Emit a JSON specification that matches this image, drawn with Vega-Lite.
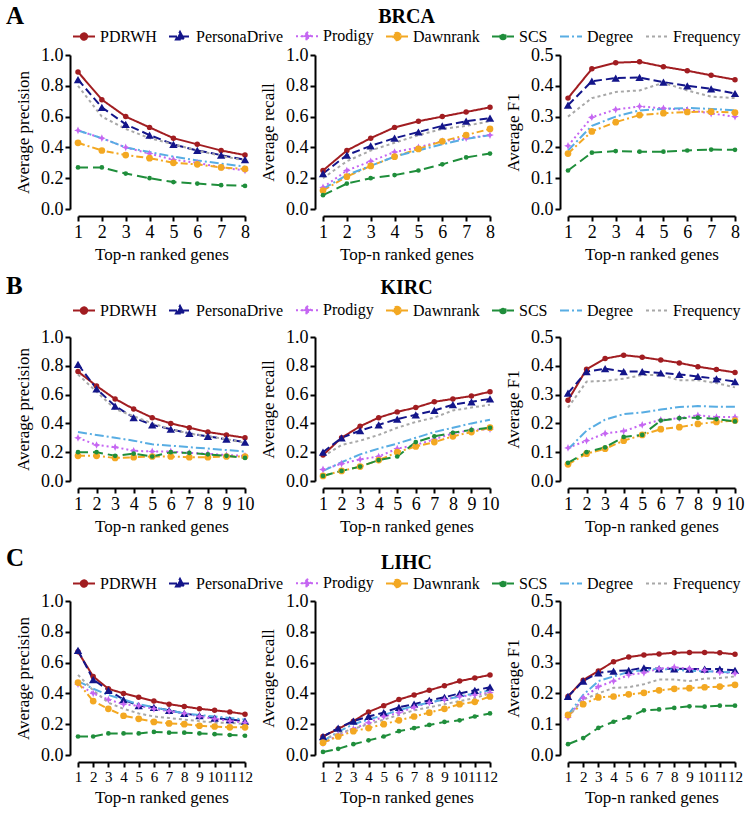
{
"$schema": "https://vega.github.io/schema/vega-lite/v6.json",
"background": "white",
"padding": {"left": 6, "top": 4, "right": 4, "bottom": 2},
"spacing": 12,
"resolve": {"scale": {"color": "independent", "strokeDash": "independent", "shape": "independent"}},
"config": {
  "font": "Times New Roman, Liberation Serif, DejaVu Serif, serif",
  "view": {"stroke": null},
  "style": {"guide-label": {"font": "Times New Roman, Liberation Serif, DejaVu Serif, serif"}, "guide-title": {"font": "Times New Roman, Liberation Serif, DejaVu Serif, serif"}, "group-title": {"font": "Times New Roman, Liberation Serif, DejaVu Serif, serif"}},
  "axis": {"domainColor": "#000", "domainWidth": 2, "tickColor": "#000", "tickWidth": 2, "tickSize": 5, "labelFont": "Times New Roman, Liberation Serif, DejaVu Serif, serif", "labelFontSize": 18, "labelColor": "#000", "labelPadding": 2, "titleFont": "Times New Roman, Liberation Serif, DejaVu Serif, serif", "titleFontSize": 17, "titleFontWeight": "normal", "titleColor": "#000", "grid": false, "labelOverlap": false, "labelFlush": false},
  "axisX": {"titlePadding": 5},
  "axisY": {"titlePadding": 8},
  "title": {"font": "Times New Roman, Liberation Serif, DejaVu Serif, serif", "color": "#000", "baseline": "alphabetic"},
  "legend": {"labelFont": "Times New Roman, Liberation Serif, DejaVu Serif, serif", "labelFontSize": 16, "labelColor": "#000"}
},
"datasets": {
"BRCA": [
{"m":"PDRWH","n":1,"p":0.89,"r":0.25,"f":0.36},{"m":"PDRWH","n":2,"p":0.71,"r":0.38,"f":0.455},{"m":"PDRWH","n":3,"p":0.60,"r":0.46,"f":0.475},{"m":"PDRWH","n":4,"p":0.53,"r":0.53,"f":0.478},{"m":"PDRWH","n":5,"p":0.46,"r":0.57,"f":0.462},{"m":"PDRWH","n":6,"p":0.42,"r":0.60,"f":0.449},{"m":"PDRWH","n":7,"p":0.38,"r":0.63,"f":0.434},{"m":"PDRWH","n":8,"p":0.35,"r":0.66,"f":0.42},
{"m":"PersonaDrive","n":1,"p":0.84,"r":0.23,"f":0.337},{"m":"PersonaDrive","n":2,"p":0.66,"r":0.35,"f":0.415},{"m":"PersonaDrive","n":3,"p":0.55,"r":0.41,"f":0.425},{"m":"PersonaDrive","n":4,"p":0.48,"r":0.46,"f":0.427},{"m":"PersonaDrive","n":5,"p":0.42,"r":0.50,"f":0.412},{"m":"PersonaDrive","n":6,"p":0.38,"r":0.54,"f":0.40},{"m":"PersonaDrive","n":7,"p":0.35,"r":0.57,"f":0.39},{"m":"PersonaDrive","n":8,"p":0.32,"r":0.59,"f":0.375},
{"m":"Prodigy","n":1,"p":0.51,"r":0.14,"f":0.205},{"m":"Prodigy","n":2,"p":0.46,"r":0.25,"f":0.298},{"m":"Prodigy","n":3,"p":0.40,"r":0.31,"f":0.323},{"m":"Prodigy","n":4,"p":0.36,"r":0.37,"f":0.333},{"m":"Prodigy","n":5,"p":0.32,"r":0.40,"f":0.327},{"m":"Prodigy","n":6,"p":0.30,"r":0.44,"f":0.322},{"m":"Prodigy","n":7,"p":0.27,"r":0.46,"f":0.31},{"m":"Prodigy","n":8,"p":0.25,"r":0.48,"f":0.30},
{"m":"Dawnrank","n":1,"p":0.43,"r":0.12,"f":0.18},{"m":"Dawnrank","n":2,"p":0.38,"r":0.21,"f":0.252},{"m":"Dawnrank","n":3,"p":0.35,"r":0.28,"f":0.282},{"m":"Dawnrank","n":4,"p":0.33,"r":0.34,"f":0.305},{"m":"Dawnrank","n":5,"p":0.30,"r":0.39,"f":0.311},{"m":"Dawnrank","n":6,"p":0.29,"r":0.44,"f":0.315},{"m":"Dawnrank","n":7,"p":0.27,"r":0.48,"f":0.316},{"m":"Dawnrank","n":8,"p":0.26,"r":0.52,"f":0.313},
{"m":"SCS","n":1,"p":0.27,"r":0.09,"f":0.125},{"m":"SCS","n":2,"p":0.27,"r":0.165,"f":0.183},{"m":"SCS","n":3,"p":0.23,"r":0.20,"f":0.188},{"m":"SCS","n":4,"p":0.20,"r":0.22,"f":0.186},{"m":"SCS","n":5,"p":0.175,"r":0.25,"f":0.186},{"m":"SCS","n":6,"p":0.165,"r":0.29,"f":0.19},{"m":"SCS","n":7,"p":0.155,"r":0.335,"f":0.193},{"m":"SCS","n":8,"p":0.15,"r":0.36,"f":0.192},
{"m":"Degree","n":1,"p":0.51,"r":0.13,"f":0.19},{"m":"Degree","n":2,"p":0.46,"r":0.22,"f":0.27},{"m":"Degree","n":3,"p":0.40,"r":0.28,"f":0.30},{"m":"Degree","n":4,"p":0.37,"r":0.34,"f":0.32},{"m":"Degree","n":5,"p":0.34,"r":0.38,"f":0.325},{"m":"Degree","n":6,"p":0.315,"r":0.42,"f":0.328},{"m":"Degree","n":7,"p":0.295,"r":0.455,"f":0.325},{"m":"Degree","n":8,"p":0.275,"r":0.48,"f":0.32},
{"m":"Frequency","n":1,"p":0.80,"r":0.20,"f":0.30},{"m":"Frequency","n":2,"p":0.60,"r":0.31,"f":0.36},{"m":"Frequency","n":3,"p":0.52,"r":0.38,"f":0.38},{"m":"Frequency","n":4,"p":0.46,"r":0.43,"f":0.385},{"m":"Frequency","n":5,"p":0.42,"r":0.48,"f":0.41},{"m":"Frequency","n":6,"p":0.38,"r":0.52,"f":0.385},{"m":"Frequency","n":7,"p":0.345,"r":0.54,"f":0.365},{"m":"Frequency","n":8,"p":0.315,"r":0.57,"f":0.36}
],
"KIRC": [
{"m":"PDRWH","n":1,"p":0.76,"r":0.18,"f":0.28},{"m":"PDRWH","n":2,"p":0.66,"r":0.30,"f":0.388},{"m":"PDRWH","n":3,"p":0.57,"r":0.38,"f":0.425},{"m":"PDRWH","n":4,"p":0.50,"r":0.44,"f":0.437},{"m":"PDRWH","n":5,"p":0.44,"r":0.48,"f":0.43},{"m":"PDRWH","n":6,"p":0.40,"r":0.51,"f":0.42},{"m":"PDRWH","n":7,"p":0.37,"r":0.55,"f":0.41},{"m":"PDRWH","n":8,"p":0.34,"r":0.57,"f":0.397},{"m":"PDRWH","n":9,"p":0.32,"r":0.59,"f":0.387},{"m":"PDRWH","n":10,"p":0.30,"r":0.62,"f":0.377},
{"m":"PersonaDrive","n":1,"p":0.81,"r":0.20,"f":0.305},{"m":"PersonaDrive","n":2,"p":0.64,"r":0.30,"f":0.38},{"m":"PersonaDrive","n":3,"p":0.52,"r":0.35,"f":0.39},{"m":"PersonaDrive","n":4,"p":0.44,"r":0.39,"f":0.38},{"m":"PersonaDrive","n":5,"p":0.39,"r":0.43,"f":0.38},{"m":"PersonaDrive","n":6,"p":0.36,"r":0.46,"f":0.375},{"m":"PersonaDrive","n":7,"p":0.33,"r":0.49,"f":0.37},{"m":"PersonaDrive","n":8,"p":0.31,"r":0.53,"f":0.363},{"m":"PersonaDrive","n":9,"p":0.29,"r":0.55,"f":0.355},{"m":"PersonaDrive","n":10,"p":0.27,"r":0.57,"f":0.345},
{"m":"Prodigy","n":1,"p":0.30,"r":0.08,"f":0.115},{"m":"Prodigy","n":2,"p":0.25,"r":0.12,"f":0.14},{"m":"Prodigy","n":3,"p":0.235,"r":0.15,"f":0.165},{"m":"Prodigy","n":4,"p":0.21,"r":0.17,"f":0.173},{"m":"Prodigy","n":5,"p":0.205,"r":0.225,"f":0.195},{"m":"Prodigy","n":6,"p":0.205,"r":0.25,"f":0.212},{"m":"Prodigy","n":7,"p":0.195,"r":0.29,"f":0.218},{"m":"Prodigy","n":8,"p":0.19,"r":0.33,"f":0.228},{"m":"Prodigy","n":9,"p":0.18,"r":0.355,"f":0.222},{"m":"Prodigy","n":10,"p":0.175,"r":0.36,"f":0.222},
{"m":"Dawnrank","n":1,"p":0.175,"r":0.035,"f":0.058},{"m":"Dawnrank","n":2,"p":0.175,"r":0.07,"f":0.095},{"m":"Dawnrank","n":3,"p":0.16,"r":0.10,"f":0.112},{"m":"Dawnrank","n":4,"p":0.165,"r":0.145,"f":0.14},{"m":"Dawnrank","n":5,"p":0.17,"r":0.20,"f":0.16},{"m":"Dawnrank","n":6,"p":0.17,"r":0.24,"f":0.18},{"m":"Dawnrank","n":7,"p":0.165,"r":0.27,"f":0.187},{"m":"Dawnrank","n":8,"p":0.165,"r":0.31,"f":0.198},{"m":"Dawnrank","n":9,"p":0.17,"r":0.34,"f":0.205},{"m":"Dawnrank","n":10,"p":0.17,"r":0.37,"f":0.21},
{"m":"SCS","n":1,"p":0.20,"r":0.035,"f":0.063},{"m":"SCS","n":2,"p":0.20,"r":0.07,"f":0.10},{"m":"SCS","n":3,"p":0.175,"r":0.10,"f":0.117},{"m":"SCS","n":4,"p":0.19,"r":0.145,"f":0.153},{"m":"SCS","n":5,"p":0.17,"r":0.17,"f":0.16},{"m":"SCS","n":6,"p":0.20,"r":0.27,"f":0.21},{"m":"SCS","n":7,"p":0.195,"r":0.31,"f":0.218},{"m":"SCS","n":8,"p":0.185,"r":0.335,"f":0.22},{"m":"SCS","n":9,"p":0.175,"r":0.355,"f":0.215},{"m":"SCS","n":10,"p":0.16,"r":0.37,"f":0.207},
{"m":"Degree","n":1,"p":0.34,"r":0.07,"f":0.11},{"m":"Degree","n":2,"p":0.32,"r":0.13,"f":0.175},{"m":"Degree","n":3,"p":0.30,"r":0.185,"f":0.213},{"m":"Degree","n":4,"p":0.28,"r":0.225,"f":0.232},{"m":"Degree","n":5,"p":0.255,"r":0.26,"f":0.238},{"m":"Degree","n":6,"p":0.245,"r":0.30,"f":0.248},{"m":"Degree","n":7,"p":0.235,"r":0.34,"f":0.257},{"m":"Degree","n":8,"p":0.225,"r":0.37,"f":0.26},{"m":"Degree","n":9,"p":0.215,"r":0.40,"f":0.258},{"m":"Degree","n":10,"p":0.205,"r":0.425,"f":0.258},
{"m":"Frequency","n":1,"p":0.74,"r":0.17,"f":0.255},{"m":"Frequency","n":2,"p":0.62,"r":0.25,"f":0.345},{"m":"Frequency","n":3,"p":0.50,"r":0.28,"f":0.348},{"m":"Frequency","n":4,"p":0.45,"r":0.32,"f":0.355},{"m":"Frequency","n":5,"p":0.40,"r":0.37,"f":0.368},{"m":"Frequency","n":6,"p":0.36,"r":0.41,"f":0.368},{"m":"Frequency","n":7,"p":0.33,"r":0.44,"f":0.35},{"m":"Frequency","n":8,"p":0.31,"r":0.49,"f":0.35},{"m":"Frequency","n":9,"p":0.29,"r":0.51,"f":0.34},{"m":"Frequency","n":10,"p":0.265,"r":0.53,"f":0.325}
],
"LIHC": [
{"m":"PDRWH","n":1,"p":0.67,"r":0.12,"f":0.19},{"m":"PDRWH","n":2,"p":0.51,"r":0.17,"f":0.243},{"m":"PDRWH","n":3,"p":0.43,"r":0.22,"f":0.273},{"m":"PDRWH","n":4,"p":0.40,"r":0.28,"f":0.303},{"m":"PDRWH","n":5,"p":0.375,"r":0.32,"f":0.318},{"m":"PDRWH","n":6,"p":0.35,"r":0.36,"f":0.325},{"m":"PDRWH","n":7,"p":0.33,"r":0.39,"f":0.328},{"m":"PDRWH","n":8,"p":0.315,"r":0.42,"f":0.332},{"m":"PDRWH","n":9,"p":0.30,"r":0.45,"f":0.333},{"m":"PDRWH","n":10,"p":0.29,"r":0.48,"f":0.333},{"m":"PDRWH","n":11,"p":0.28,"r":0.50,"f":0.332},{"m":"PDRWH","n":12,"p":0.265,"r":0.52,"f":0.327},
{"m":"PersonaDrive","n":1,"p":0.68,"r":0.12,"f":0.19},{"m":"PersonaDrive","n":2,"p":0.49,"r":0.175,"f":0.24},{"m":"PersonaDrive","n":3,"p":0.42,"r":0.22,"f":0.267},{"m":"PersonaDrive","n":4,"p":0.36,"r":0.25,"f":0.272},{"m":"PersonaDrive","n":5,"p":0.32,"r":0.275,"f":0.275},{"m":"PersonaDrive","n":6,"p":0.31,"r":0.31,"f":0.283},{"m":"PersonaDrive","n":7,"p":0.29,"r":0.33,"f":0.28},{"m":"PersonaDrive","n":8,"p":0.27,"r":0.355,"f":0.28},{"m":"PersonaDrive","n":9,"p":0.255,"r":0.375,"f":0.279},{"m":"PersonaDrive","n":10,"p":0.24,"r":0.40,"f":0.279},{"m":"PersonaDrive","n":11,"p":0.23,"r":0.42,"f":0.279},{"m":"PersonaDrive","n":12,"p":0.22,"r":0.44,"f":0.275},
{"m":"Prodigy","n":1,"p":0.46,"r":0.075,"f":0.122},{"m":"Prodigy","n":2,"p":0.40,"r":0.13,"f":0.185},{"m":"Prodigy","n":3,"p":0.36,"r":0.17,"f":0.222},{"m":"Prodigy","n":4,"p":0.33,"r":0.21,"f":0.24},{"m":"Prodigy","n":5,"p":0.32,"r":0.25,"f":0.26},{"m":"Prodigy","n":6,"p":0.30,"r":0.275,"f":0.267},{"m":"Prodigy","n":7,"p":0.285,"r":0.31,"f":0.28},{"m":"Prodigy","n":8,"p":0.27,"r":0.34,"f":0.285},{"m":"Prodigy","n":9,"p":0.25,"r":0.36,"f":0.28},{"m":"Prodigy","n":10,"p":0.235,"r":0.38,"f":0.275},{"m":"Prodigy","n":11,"p":0.22,"r":0.39,"f":0.268},{"m":"Prodigy","n":12,"p":0.21,"r":0.405,"f":0.265},
{"m":"Dawnrank","n":1,"p":0.47,"r":0.08,"f":0.13},{"m":"Dawnrank","n":2,"p":0.35,"r":0.12,"f":0.165},{"m":"Dawnrank","n":3,"p":0.30,"r":0.155,"f":0.187},{"m":"Dawnrank","n":4,"p":0.255,"r":0.175,"f":0.19},{"m":"Dawnrank","n":5,"p":0.235,"r":0.20,"f":0.197},{"m":"Dawnrank","n":6,"p":0.215,"r":0.225,"f":0.202},{"m":"Dawnrank","n":7,"p":0.205,"r":0.25,"f":0.21},{"m":"Dawnrank","n":8,"p":0.20,"r":0.275,"f":0.215},{"m":"Dawnrank","n":9,"p":0.19,"r":0.30,"f":0.217},{"m":"Dawnrank","n":10,"p":0.185,"r":0.33,"f":0.22},{"m":"Dawnrank","n":11,"p":0.18,"r":0.345,"f":0.222},{"m":"Dawnrank","n":12,"p":0.18,"r":0.38,"f":0.228},
{"m":"SCS","n":1,"p":0.12,"r":0.02,"f":0.035},{"m":"SCS","n":2,"p":0.12,"r":0.04,"f":0.055},{"m":"SCS","n":3,"p":0.14,"r":0.07,"f":0.088},{"m":"SCS","n":4,"p":0.14,"r":0.095,"f":0.108},{"m":"SCS","n":5,"p":0.14,"r":0.12,"f":0.122},{"m":"SCS","n":6,"p":0.15,"r":0.155,"f":0.145},{"m":"SCS","n":7,"p":0.145,"r":0.175,"f":0.148},{"m":"SCS","n":8,"p":0.145,"r":0.195,"f":0.153},{"m":"SCS","n":9,"p":0.14,"r":0.215,"f":0.158},{"m":"SCS","n":10,"p":0.135,"r":0.225,"f":0.157},{"m":"SCS","n":11,"p":0.13,"r":0.25,"f":0.16},{"m":"SCS","n":12,"p":0.125,"r":0.27,"f":0.16},
{"m":"Degree","n":1,"p":0.48,"r":0.09,"f":0.13},{"m":"Degree","n":2,"p":0.43,"r":0.15,"f":0.195},{"m":"Degree","n":3,"p":0.39,"r":0.20,"f":0.24},{"m":"Degree","n":4,"p":0.36,"r":0.23,"f":0.255},{"m":"Degree","n":5,"p":0.33,"r":0.26,"f":0.27},{"m":"Degree","n":6,"p":0.31,"r":0.29,"f":0.275},{"m":"Degree","n":7,"p":0.29,"r":0.32,"f":0.28},{"m":"Degree","n":8,"p":0.27,"r":0.34,"f":0.277},{"m":"Degree","n":9,"p":0.26,"r":0.36,"f":0.273},{"m":"Degree","n":10,"p":0.25,"r":0.38,"f":0.272},{"m":"Degree","n":11,"p":0.24,"r":0.40,"f":0.27},{"m":"Degree","n":12,"p":0.23,"r":0.42,"f":0.268},
{"m":"Frequency","n":1,"p":0.52,"r":0.10,"f":0.125},{"m":"Frequency","n":2,"p":0.42,"r":0.14,"f":0.18},{"m":"Frequency","n":3,"p":0.34,"r":0.17,"f":0.20},{"m":"Frequency","n":4,"p":0.30,"r":0.20,"f":0.218},{"m":"Frequency","n":5,"p":0.27,"r":0.23,"f":0.22},{"m":"Frequency","n":6,"p":0.25,"r":0.26,"f":0.23},{"m":"Frequency","n":7,"p":0.24,"r":0.29,"f":0.245},{"m":"Frequency","n":8,"p":0.23,"r":0.31,"f":0.245},{"m":"Frequency","n":9,"p":0.22,"r":0.33,"f":0.24},{"m":"Frequency","n":10,"p":0.21,"r":0.35,"f":0.248},{"m":"Frequency","n":11,"p":0.21,"r":0.37,"f":0.25},{"m":"Frequency","n":12,"p":0.20,"r":0.40,"f":0.255}
]
},
"vconcat": [
{"bounds": "flush", "spacing": 78, "resolve": {"scale": {"color": "independent", "strokeDash": "independent", "shape": "independent"}},
 "hconcat": [
  {"width": 167, "height": 154, "data": {"name": "BRCA"},
   "title": {"text": "A", "anchor": "start", "frame": "group", "dx": -72, "fontSize": 25, "fontWeight": "bold", "offset": -5},
   "encoding": {
     "x": {"field": "n", "type": "quantitative", "scale": {"domain": [1, 8], "nice": false, "zero": false}, "axis": {"values": [1,2,3,4,5,6,7,8], "offset": 7, "title": "Top-n ranked genes"}},
     "y": {"field": "p", "type": "quantitative", "scale": {"domain": [0, 1], "nice": false}, "axis": {"values": [0,0.2,0.4,0.6,0.8,1], "format": ".1f", "offset": 8, "title": "Average precision"}},
     "color": {"field": "m", "type": "nominal", "scale": {"domain": ["PDRWH","PersonaDrive","Prodigy","Dawnrank","SCS","Degree","Frequency"], "range": ["#a11d21","#13158a","#c566f2","#f3a822","#1f8e3b","#58ade3","#a8a8a8"]},
       "legend": {"orient": "none", "legendX": -6, "legendY": -31, "direction": "horizontal", "title": null, "symbolSize": 484, "columnPadding": 8, "labelOffset": 4, "symbolStrokeWidth": 2, "symbolType": "stroke",
         "encoding": {"symbols": {
           "shape": {"value": {"expr": "datum.value==='PDRWH'?'M-1,0L1,0M0.29,0A0.29,0.29,0,1,1,-0.29,0A0.29,0.29,0,1,1,0.29,0Z':datum.value==='PersonaDrive'?'M-1,0L1,0M0,-0.42L0.37,0.28L-0.37,0.28Z':datum.value==='Prodigy'?'M-1,0L1,0M0,-0.42L0.12,-0.12L0.42,0L0.12,0.12L0,0.42L-0.12,0.12L-0.42,0L-0.12,-0.12Z':datum.value==='Dawnrank'?'M-1,0L1,0M0.34,0A0.34,0.34,0,1,1,-0.34,0A0.34,0.34,0,1,1,0.34,0Z':datum.value==='SCS'?'M-1,0L1,0M0.25,0A0.25,0.25,0,1,1,-0.25,0A0.25,0.25,0,1,1,0.25,0Z':'M-1,0L1,0'"}},
           "fill": {"value": {"expr": "datum.value==='PDRWH'?'#a11d21':datum.value==='PersonaDrive'?'#13158a':datum.value==='Prodigy'?'#c566f2':datum.value==='Dawnrank'?'#f3a822':datum.value==='SCS'?'#1f8e3b':datum.value==='Degree'?'#58ade3':'#a8a8a8'"}},
           "stroke": {"value": {"expr": "datum.value==='PDRWH'?'#a11d21':datum.value==='PersonaDrive'?'#13158a':datum.value==='Prodigy'?'#c566f2':datum.value==='Dawnrank'?'#f3a822':datum.value==='SCS'?'#1f8e3b':datum.value==='Degree'?'#58ade3':'#a8a8a8'"}},
           "strokeDash": {"value": {"expr": "datum.value==='PDRWH'?[1,0]:datum.value==='PersonaDrive'?[8,4]:datum.value==='Prodigy'?[2,3]:datum.value==='Dawnrank'?[7,3,2,3]:datum.value==='SCS'?[10,5]:datum.value==='Degree'?[9,3,2,3]:[3,3]"}},
           "strokeWidth": {"value": 2},
           "opacity": {"value": 1}
         }}}}
   },
   "layer": [
     {"mark": {"type": "line", "strokeWidth": 2}, "encoding": {"strokeDash": {"field": "m", "type": "nominal", "scale": {"domain": ["PDRWH","PersonaDrive","Prodigy","Dawnrank","SCS","Degree","Frequency"], "range": [[1,0],[8,4],[2,3],[7,3,2,3],[10,5],[9,3,2,3],[3,3]]}, "legend": null}}},
     {"transform": [{"filter": "datum.m !== 'Degree' && datum.m !== 'Frequency'"}], "mark": {"type": "point", "filled": true, "opacity": 1},
      "encoding": {"shape": {"field": "m", "type": "nominal", "scale": {"domain": ["PDRWH","PersonaDrive","Prodigy","Dawnrank","SCS"], "range": ["circle","triangle-up","M0,-1L0.3,-0.3L1,0L0.3,0.3L0,1L-0.3,0.3L-1,0L-0.3,-0.3Z","circle","circle"]}, "legend": null},
        "size": {"condition": [{"test": "datum.m==='PersonaDrive'", "value": 70}, {"test": "datum.m==='Prodigy'", "value": 60}, {"test": "datum.m==='Dawnrank'", "value": 45}, {"test": "datum.m==='SCS'", "value": 22}], "value": 30}}}
   ]},
  {"width": 167, "height": 154, "data": {"name": "BRCA"},
   "title": {"text": "BRCA", "anchor": "middle", "frame": "group", "fontSize": 20, "fontWeight": "bold", "offset": 19},
   "encoding": {
     "x": {"field": "n", "type": "quantitative", "scale": {"domain": [1, 8], "nice": false, "zero": false}, "axis": {"values": [1,2,3,4,5,6,7,8], "offset": 7, "title": "Top-n ranked genes"}},
     "y": {"field": "r", "type": "quantitative", "scale": {"domain": [0, 1], "nice": false}, "axis": {"values": [0,0.2,0.4,0.6,0.8,1], "format": ".1f", "offset": 8, "title": "Average recall"}},
     "color": {"field": "m", "type": "nominal", "scale": {"domain": ["PDRWH","PersonaDrive","Prodigy","Dawnrank","SCS","Degree","Frequency"], "range": ["#a11d21","#13158a","#c566f2","#f3a822","#1f8e3b","#58ade3","#a8a8a8"]}, "legend": null}
   },
   "layer": [
     {"mark": {"type": "line", "strokeWidth": 2}, "encoding": {"strokeDash": {"field": "m", "type": "nominal", "scale": {"domain": ["PDRWH","PersonaDrive","Prodigy","Dawnrank","SCS","Degree","Frequency"], "range": [[1,0],[8,4],[2,3],[7,3,2,3],[10,5],[9,3,2,3],[3,3]]}, "legend": null}}},
     {"transform": [{"filter": "datum.m !== 'Degree' && datum.m !== 'Frequency'"}], "mark": {"type": "point", "filled": true, "opacity": 1},
      "encoding": {"shape": {"field": "m", "type": "nominal", "scale": {"domain": ["PDRWH","PersonaDrive","Prodigy","Dawnrank","SCS"], "range": ["circle","triangle-up","M0,-1L0.3,-0.3L1,0L0.3,0.3L0,1L-0.3,0.3L-1,0L-0.3,-0.3Z","circle","circle"]}, "legend": null},
        "size": {"condition": [{"test": "datum.m==='PersonaDrive'", "value": 70}, {"test": "datum.m==='Prodigy'", "value": 60}, {"test": "datum.m==='Dawnrank'", "value": 45}, {"test": "datum.m==='SCS'", "value": 22}], "value": 30}}}
   ]},
  {"width": 167, "height": 154, "data": {"name": "BRCA"},
   "encoding": {
     "x": {"field": "n", "type": "quantitative", "scale": {"domain": [1, 8], "nice": false, "zero": false}, "axis": {"values": [1,2,3,4,5,6,7,8], "offset": 7, "title": "Top-n ranked genes"}},
     "y": {"field": "f", "type": "quantitative", "scale": {"domain": [0, 0.5], "nice": false}, "axis": {"values": [0,0.1,0.2,0.3,0.4,0.5], "format": ".1f", "offset": 8, "title": "Average F1"}},
     "color": {"field": "m", "type": "nominal", "scale": {"domain": ["PDRWH","PersonaDrive","Prodigy","Dawnrank","SCS","Degree","Frequency"], "range": ["#a11d21","#13158a","#c566f2","#f3a822","#1f8e3b","#58ade3","#a8a8a8"]}, "legend": null}
   },
   "layer": [
     {"mark": {"type": "line", "strokeWidth": 2}, "encoding": {"strokeDash": {"field": "m", "type": "nominal", "scale": {"domain": ["PDRWH","PersonaDrive","Prodigy","Dawnrank","SCS","Degree","Frequency"], "range": [[1,0],[8,4],[2,3],[7,3,2,3],[10,5],[9,3,2,3],[3,3]]}, "legend": null}}},
     {"transform": [{"filter": "datum.m !== 'Degree' && datum.m !== 'Frequency'"}], "mark": {"type": "point", "filled": true, "opacity": 1},
      "encoding": {"shape": {"field": "m", "type": "nominal", "scale": {"domain": ["PDRWH","PersonaDrive","Prodigy","Dawnrank","SCS"], "range": ["circle","triangle-up","M0,-1L0.3,-0.3L1,0L0.3,0.3L0,1L-0.3,0.3L-1,0L-0.3,-0.3Z","circle","circle"]}, "legend": null},
        "size": {"condition": [{"test": "datum.m==='PersonaDrive'", "value": 70}, {"test": "datum.m==='Prodigy'", "value": 60}, {"test": "datum.m==='Dawnrank'", "value": 45}, {"test": "datum.m==='SCS'", "value": 22}], "value": 30}}}
   ]}
 ]},
{"bounds": "flush", "spacing": 78, "resolve": {"scale": {"color": "independent", "strokeDash": "independent", "shape": "independent"}},
 "hconcat": [
  {"width": 167, "height": 144, "data": {"name": "KIRC"},
   "title": {"text": "B", "anchor": "start", "frame": "group", "dx": -72, "fontSize": 25, "fontWeight": "bold", "offset": -1},
   "encoding": {
     "x": {"field": "n", "type": "quantitative", "scale": {"domain": [1, 10], "nice": false, "zero": false}, "axis": {"values": [1,2,3,4,5,6,7,8,9,10], "offset": 7, "title": "Top-n ranked genes"}},
     "y": {"field": "p", "type": "quantitative", "scale": {"domain": [0, 1], "nice": false}, "axis": {"values": [0,0.2,0.4,0.6,0.8,1], "format": ".1f", "offset": 8, "title": "Average precision"}},
     "color": {"field": "m", "type": "nominal", "scale": {"domain": ["PDRWH","PersonaDrive","Prodigy","Dawnrank","SCS","Degree","Frequency"], "range": ["#a11d21","#13158a","#c566f2","#f3a822","#1f8e3b","#58ade3","#a8a8a8"]},
       "legend": {"orient": "none", "legendX": -6, "legendY": -39, "direction": "horizontal", "title": null, "symbolSize": 484, "columnPadding": 8, "labelOffset": 4, "symbolStrokeWidth": 2, "symbolType": "stroke",
         "encoding": {"symbols": {
           "shape": {"value": {"expr": "datum.value==='PDRWH'?'M-1,0L1,0M0.29,0A0.29,0.29,0,1,1,-0.29,0A0.29,0.29,0,1,1,0.29,0Z':datum.value==='PersonaDrive'?'M-1,0L1,0M0,-0.42L0.37,0.28L-0.37,0.28Z':datum.value==='Prodigy'?'M-1,0L1,0M0,-0.42L0.12,-0.12L0.42,0L0.12,0.12L0,0.42L-0.12,0.12L-0.42,0L-0.12,-0.12Z':datum.value==='Dawnrank'?'M-1,0L1,0M0.34,0A0.34,0.34,0,1,1,-0.34,0A0.34,0.34,0,1,1,0.34,0Z':datum.value==='SCS'?'M-1,0L1,0M0.25,0A0.25,0.25,0,1,1,-0.25,0A0.25,0.25,0,1,1,0.25,0Z':'M-1,0L1,0'"}},
           "fill": {"value": {"expr": "datum.value==='PDRWH'?'#a11d21':datum.value==='PersonaDrive'?'#13158a':datum.value==='Prodigy'?'#c566f2':datum.value==='Dawnrank'?'#f3a822':datum.value==='SCS'?'#1f8e3b':datum.value==='Degree'?'#58ade3':'#a8a8a8'"}},
           "stroke": {"value": {"expr": "datum.value==='PDRWH'?'#a11d21':datum.value==='PersonaDrive'?'#13158a':datum.value==='Prodigy'?'#c566f2':datum.value==='Dawnrank'?'#f3a822':datum.value==='SCS'?'#1f8e3b':datum.value==='Degree'?'#58ade3':'#a8a8a8'"}},
           "strokeDash": {"value": {"expr": "datum.value==='PDRWH'?[1,0]:datum.value==='PersonaDrive'?[8,4]:datum.value==='Prodigy'?[2,3]:datum.value==='Dawnrank'?[7,3,2,3]:datum.value==='SCS'?[10,5]:datum.value==='Degree'?[9,3,2,3]:[3,3]"}},
           "strokeWidth": {"value": 2},
           "opacity": {"value": 1}
         }}}}
   },
   "layer": [
     {"mark": {"type": "line", "strokeWidth": 2}, "encoding": {"strokeDash": {"field": "m", "type": "nominal", "scale": {"domain": ["PDRWH","PersonaDrive","Prodigy","Dawnrank","SCS","Degree","Frequency"], "range": [[1,0],[8,4],[2,3],[7,3,2,3],[10,5],[9,3,2,3],[3,3]]}, "legend": null}}},
     {"transform": [{"filter": "datum.m !== 'Degree' && datum.m !== 'Frequency'"}], "mark": {"type": "point", "filled": true, "opacity": 1},
      "encoding": {"shape": {"field": "m", "type": "nominal", "scale": {"domain": ["PDRWH","PersonaDrive","Prodigy","Dawnrank","SCS"], "range": ["circle","triangle-up","M0,-1L0.3,-0.3L1,0L0.3,0.3L0,1L-0.3,0.3L-1,0L-0.3,-0.3Z","circle","circle"]}, "legend": null},
        "size": {"condition": [{"test": "datum.m==='PersonaDrive'", "value": 70}, {"test": "datum.m==='Prodigy'", "value": 60}, {"test": "datum.m==='Dawnrank'", "value": 45}, {"test": "datum.m==='SCS'", "value": 22}], "value": 30}}}
   ]},
  {"width": 167, "height": 144, "data": {"name": "KIRC"},
   "title": {"text": "KIRC", "anchor": "middle", "frame": "group", "fontSize": 20, "fontWeight": "bold", "offset": 30},
   "encoding": {
     "x": {"field": "n", "type": "quantitative", "scale": {"domain": [1, 10], "nice": false, "zero": false}, "axis": {"values": [1,2,3,4,5,6,7,8,9,10], "offset": 7, "title": "Top-n ranked genes"}},
     "y": {"field": "r", "type": "quantitative", "scale": {"domain": [0, 1], "nice": false}, "axis": {"values": [0,0.2,0.4,0.6,0.8,1], "format": ".1f", "offset": 8, "title": "Average recall"}},
     "color": {"field": "m", "type": "nominal", "scale": {"domain": ["PDRWH","PersonaDrive","Prodigy","Dawnrank","SCS","Degree","Frequency"], "range": ["#a11d21","#13158a","#c566f2","#f3a822","#1f8e3b","#58ade3","#a8a8a8"]}, "legend": null}
   },
   "layer": [
     {"mark": {"type": "line", "strokeWidth": 2}, "encoding": {"strokeDash": {"field": "m", "type": "nominal", "scale": {"domain": ["PDRWH","PersonaDrive","Prodigy","Dawnrank","SCS","Degree","Frequency"], "range": [[1,0],[8,4],[2,3],[7,3,2,3],[10,5],[9,3,2,3],[3,3]]}, "legend": null}}},
     {"transform": [{"filter": "datum.m !== 'Degree' && datum.m !== 'Frequency'"}], "mark": {"type": "point", "filled": true, "opacity": 1},
      "encoding": {"shape": {"field": "m", "type": "nominal", "scale": {"domain": ["PDRWH","PersonaDrive","Prodigy","Dawnrank","SCS"], "range": ["circle","triangle-up","M0,-1L0.3,-0.3L1,0L0.3,0.3L0,1L-0.3,0.3L-1,0L-0.3,-0.3Z","circle","circle"]}, "legend": null},
        "size": {"condition": [{"test": "datum.m==='PersonaDrive'", "value": 70}, {"test": "datum.m==='Prodigy'", "value": 60}, {"test": "datum.m==='Dawnrank'", "value": 45}, {"test": "datum.m==='SCS'", "value": 22}], "value": 30}}}
   ]},
  {"width": 167, "height": 144, "data": {"name": "KIRC"},
   "encoding": {
     "x": {"field": "n", "type": "quantitative", "scale": {"domain": [1, 10], "nice": false, "zero": false}, "axis": {"values": [1,2,3,4,5,6,7,8,9,10], "offset": 7, "title": "Top-n ranked genes"}},
     "y": {"field": "f", "type": "quantitative", "scale": {"domain": [0, 0.5], "nice": false}, "axis": {"values": [0,0.1,0.2,0.3,0.4,0.5], "format": ".1f", "offset": 8, "title": "Average F1"}},
     "color": {"field": "m", "type": "nominal", "scale": {"domain": ["PDRWH","PersonaDrive","Prodigy","Dawnrank","SCS","Degree","Frequency"], "range": ["#a11d21","#13158a","#c566f2","#f3a822","#1f8e3b","#58ade3","#a8a8a8"]}, "legend": null}
   },
   "layer": [
     {"mark": {"type": "line", "strokeWidth": 2}, "encoding": {"strokeDash": {"field": "m", "type": "nominal", "scale": {"domain": ["PDRWH","PersonaDrive","Prodigy","Dawnrank","SCS","Degree","Frequency"], "range": [[1,0],[8,4],[2,3],[7,3,2,3],[10,5],[9,3,2,3],[3,3]]}, "legend": null}}},
     {"transform": [{"filter": "datum.m !== 'Degree' && datum.m !== 'Frequency'"}], "mark": {"type": "point", "filled": true, "opacity": 1},
      "encoding": {"shape": {"field": "m", "type": "nominal", "scale": {"domain": ["PDRWH","PersonaDrive","Prodigy","Dawnrank","SCS"], "range": ["circle","triangle-up","M0,-1L0.3,-0.3L1,0L0.3,0.3L0,1L-0.3,0.3L-1,0L-0.3,-0.3Z","circle","circle"]}, "legend": null},
        "size": {"condition": [{"test": "datum.m==='PersonaDrive'", "value": 70}, {"test": "datum.m==='Prodigy'", "value": 60}, {"test": "datum.m==='Dawnrank'", "value": 45}, {"test": "datum.m==='SCS'", "value": 22}], "value": 30}}}
   ]}
 ]},
{"bounds": "flush", "spacing": 78, "resolve": {"scale": {"color": "independent", "strokeDash": "independent", "shape": "independent"}},
 "hconcat": [
  {"width": 167, "height": 154, "data": {"name": "LIHC"},
   "title": {"text": "C", "anchor": "start", "frame": "group", "dx": -72, "fontSize": 25, "fontWeight": "bold", "offset": 0},
   "encoding": {
     "x": {"field": "n", "type": "quantitative", "scale": {"domain": [1, 12], "nice": false, "zero": false}, "axis": {"values": [1,2,3,4,5,6,7,8,9,10,11,12], "offset": 7, "labelFontSize": 15, "title": "Top-n ranked genes"}},
     "y": {"field": "p", "type": "quantitative", "scale": {"domain": [0, 1], "nice": false}, "axis": {"values": [0,0.2,0.4,0.6,0.8,1], "format": ".1f", "offset": 8, "title": "Average precision"}},
     "color": {"field": "m", "type": "nominal", "scale": {"domain": ["PDRWH","PersonaDrive","Prodigy","Dawnrank","SCS","Degree","Frequency"], "range": ["#a11d21","#13158a","#c566f2","#f3a822","#1f8e3b","#58ade3","#a8a8a8"]},
       "legend": {"orient": "none", "legendX": -6, "legendY": -30, "direction": "horizontal", "title": null, "symbolSize": 484, "columnPadding": 8, "labelOffset": 4, "symbolStrokeWidth": 2, "symbolType": "stroke",
         "encoding": {"symbols": {
           "shape": {"value": {"expr": "datum.value==='PDRWH'?'M-1,0L1,0M0.29,0A0.29,0.29,0,1,1,-0.29,0A0.29,0.29,0,1,1,0.29,0Z':datum.value==='PersonaDrive'?'M-1,0L1,0M0,-0.42L0.37,0.28L-0.37,0.28Z':datum.value==='Prodigy'?'M-1,0L1,0M0,-0.42L0.12,-0.12L0.42,0L0.12,0.12L0,0.42L-0.12,0.12L-0.42,0L-0.12,-0.12Z':datum.value==='Dawnrank'?'M-1,0L1,0M0.34,0A0.34,0.34,0,1,1,-0.34,0A0.34,0.34,0,1,1,0.34,0Z':datum.value==='SCS'?'M-1,0L1,0M0.25,0A0.25,0.25,0,1,1,-0.25,0A0.25,0.25,0,1,1,0.25,0Z':'M-1,0L1,0'"}},
           "fill": {"value": {"expr": "datum.value==='PDRWH'?'#a11d21':datum.value==='PersonaDrive'?'#13158a':datum.value==='Prodigy'?'#c566f2':datum.value==='Dawnrank'?'#f3a822':datum.value==='SCS'?'#1f8e3b':datum.value==='Degree'?'#58ade3':'#a8a8a8'"}},
           "stroke": {"value": {"expr": "datum.value==='PDRWH'?'#a11d21':datum.value==='PersonaDrive'?'#13158a':datum.value==='Prodigy'?'#c566f2':datum.value==='Dawnrank'?'#f3a822':datum.value==='SCS'?'#1f8e3b':datum.value==='Degree'?'#58ade3':'#a8a8a8'"}},
           "strokeDash": {"value": {"expr": "datum.value==='PDRWH'?[1,0]:datum.value==='PersonaDrive'?[8,4]:datum.value==='Prodigy'?[2,3]:datum.value==='Dawnrank'?[7,3,2,3]:datum.value==='SCS'?[10,5]:datum.value==='Degree'?[9,3,2,3]:[3,3]"}},
           "strokeWidth": {"value": 2},
           "opacity": {"value": 1}
         }}}}
   },
   "layer": [
     {"mark": {"type": "line", "strokeWidth": 2}, "encoding": {"strokeDash": {"field": "m", "type": "nominal", "scale": {"domain": ["PDRWH","PersonaDrive","Prodigy","Dawnrank","SCS","Degree","Frequency"], "range": [[1,0],[8,4],[2,3],[7,3,2,3],[10,5],[9,3,2,3],[3,3]]}, "legend": null}}},
     {"transform": [{"filter": "datum.m !== 'Degree' && datum.m !== 'Frequency'"}], "mark": {"type": "point", "filled": true, "opacity": 1},
      "encoding": {"shape": {"field": "m", "type": "nominal", "scale": {"domain": ["PDRWH","PersonaDrive","Prodigy","Dawnrank","SCS"], "range": ["circle","triangle-up","M0,-1L0.3,-0.3L1,0L0.3,0.3L0,1L-0.3,0.3L-1,0L-0.3,-0.3Z","circle","circle"]}, "legend": null},
        "size": {"condition": [{"test": "datum.m==='PersonaDrive'", "value": 70}, {"test": "datum.m==='Prodigy'", "value": 60}, {"test": "datum.m==='Dawnrank'", "value": 45}, {"test": "datum.m==='SCS'", "value": 22}], "value": 30}}}
   ]},
  {"width": 167, "height": 154, "data": {"name": "LIHC"},
   "title": {"text": "LIHC", "anchor": "middle", "frame": "group", "fontSize": 20, "fontWeight": "bold", "offset": 19},
   "encoding": {
     "x": {"field": "n", "type": "quantitative", "scale": {"domain": [1, 12], "nice": false, "zero": false}, "axis": {"values": [1,2,3,4,5,6,7,8,9,10,11,12], "offset": 7, "labelFontSize": 15, "title": "Top-n ranked genes"}},
     "y": {"field": "r", "type": "quantitative", "scale": {"domain": [0, 1], "nice": false}, "axis": {"values": [0,0.2,0.4,0.6,0.8,1], "format": ".1f", "offset": 8, "title": "Average recall"}},
     "color": {"field": "m", "type": "nominal", "scale": {"domain": ["PDRWH","PersonaDrive","Prodigy","Dawnrank","SCS","Degree","Frequency"], "range": ["#a11d21","#13158a","#c566f2","#f3a822","#1f8e3b","#58ade3","#a8a8a8"]}, "legend": null}
   },
   "layer": [
     {"mark": {"type": "line", "strokeWidth": 2}, "encoding": {"strokeDash": {"field": "m", "type": "nominal", "scale": {"domain": ["PDRWH","PersonaDrive","Prodigy","Dawnrank","SCS","Degree","Frequency"], "range": [[1,0],[8,4],[2,3],[7,3,2,3],[10,5],[9,3,2,3],[3,3]]}, "legend": null}}},
     {"transform": [{"filter": "datum.m !== 'Degree' && datum.m !== 'Frequency'"}], "mark": {"type": "point", "filled": true, "opacity": 1},
      "encoding": {"shape": {"field": "m", "type": "nominal", "scale": {"domain": ["PDRWH","PersonaDrive","Prodigy","Dawnrank","SCS"], "range": ["circle","triangle-up","M0,-1L0.3,-0.3L1,0L0.3,0.3L0,1L-0.3,0.3L-1,0L-0.3,-0.3Z","circle","circle"]}, "legend": null},
        "size": {"condition": [{"test": "datum.m==='PersonaDrive'", "value": 70}, {"test": "datum.m==='Prodigy'", "value": 60}, {"test": "datum.m==='Dawnrank'", "value": 45}, {"test": "datum.m==='SCS'", "value": 22}], "value": 30}}}
   ]},
  {"width": 167, "height": 154, "data": {"name": "LIHC"},
   "encoding": {
     "x": {"field": "n", "type": "quantitative", "scale": {"domain": [1, 12], "nice": false, "zero": false}, "axis": {"values": [1,2,3,4,5,6,7,8,9,10,11,12], "offset": 7, "labelFontSize": 15, "title": "Top-n ranked genes"}},
     "y": {"field": "f", "type": "quantitative", "scale": {"domain": [0, 0.5], "nice": false}, "axis": {"values": [0,0.1,0.2,0.3,0.4,0.5], "format": ".1f", "offset": 8, "title": "Average F1"}},
     "color": {"field": "m", "type": "nominal", "scale": {"domain": ["PDRWH","PersonaDrive","Prodigy","Dawnrank","SCS","Degree","Frequency"], "range": ["#a11d21","#13158a","#c566f2","#f3a822","#1f8e3b","#58ade3","#a8a8a8"]}, "legend": null}
   },
   "layer": [
     {"mark": {"type": "line", "strokeWidth": 2}, "encoding": {"strokeDash": {"field": "m", "type": "nominal", "scale": {"domain": ["PDRWH","PersonaDrive","Prodigy","Dawnrank","SCS","Degree","Frequency"], "range": [[1,0],[8,4],[2,3],[7,3,2,3],[10,5],[9,3,2,3],[3,3]]}, "legend": null}}},
     {"transform": [{"filter": "datum.m !== 'Degree' && datum.m !== 'Frequency'"}], "mark": {"type": "point", "filled": true, "opacity": 1},
      "encoding": {"shape": {"field": "m", "type": "nominal", "scale": {"domain": ["PDRWH","PersonaDrive","Prodigy","Dawnrank","SCS"], "range": ["circle","triangle-up","M0,-1L0.3,-0.3L1,0L0.3,0.3L0,1L-0.3,0.3L-1,0L-0.3,-0.3Z","circle","circle"]}, "legend": null},
        "size": {"condition": [{"test": "datum.m==='PersonaDrive'", "value": 70}, {"test": "datum.m==='Prodigy'", "value": 60}, {"test": "datum.m==='Dawnrank'", "value": 45}, {"test": "datum.m==='SCS'", "value": 22}], "value": 30}}}
   ]}
 ]}
]
}
